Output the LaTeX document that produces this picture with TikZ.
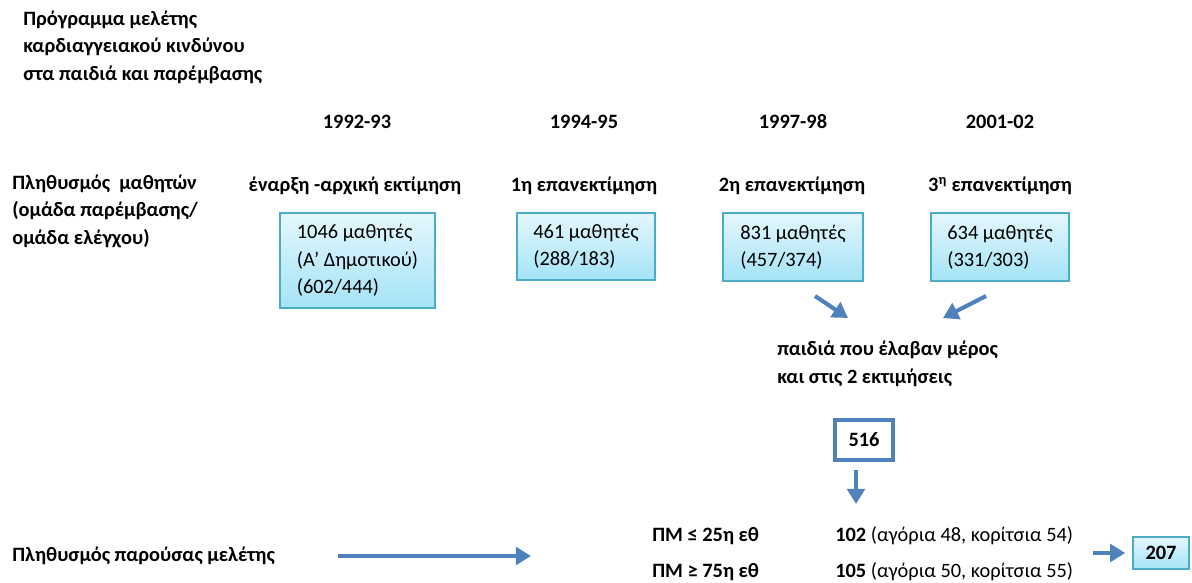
\documentclass[tikz,border=0pt]{standalone}
\usepackage{fontspec}
\setmainfont{Carlito}
\usetikzlibrary{arrows.meta,positioning}

\definecolor{boxline}{HTML}{4BACC6}
\definecolor{boxtop}{HTML}{E4F7FD}
\definecolor{boxbot}{HTML}{A4E3F6}
\definecolor{arrblue}{HTML}{4F81BD}

\begin{document}
\begin{tikzpicture}[
    x=0.025cm, y=-0.025cm,
    font=\fontsize{14.5}{19.5}\selectfont,
    lab/.style={align=left, inner sep=0pt, font=\fontsize{14.5}{19.5}\selectfont\bfseries},
    yr/.style={lab, anchor=center},
    plain/.style={align=left, inner sep=0pt},
    stud/.style={draw=boxline, line width=1pt, top color=boxtop, bottom color=boxbot,
      align=left, inner sep=0pt, font=\fontsize{14.5}{19.5}\selectfont},
    total/.style={draw=arrblue, line width=2.2pt, fill=white, minimum width=1.45cm,
      minimum height=1.0cm, font=\fontsize{14.5}{19.5}\selectfont\bfseries},
    final/.style={stud, minimum width=1.4cm, minimum height=0.8cm,
      font=\fontsize{14.5}{19.5}\selectfont\bfseries},
    arrow/.style={-{Triangle[length=3.8mm, width=4.4mm]}, line width=2.9pt, arrblue}
  ]
  \useasboundingbox (0,0) rectangle (1192,583);

  % title and row labels
  \node[lab, anchor=west] (title) at (23,47)
    {Πρόγραμμα μελέτης\\καρδιαγγειακού κινδύνου\\στα παιδιά και παρέμβασης};
  \node[lab, anchor=west] (pop) at (12,211)
    {Πληθυσμός\ \ μαθητών\\(ομάδα παρέμβασης/\\ομάδα ελέγχου)};

  % years
  \node[yr] (y1) at (357,122) {1992-93};
  \node[yr] (y2) at (584,122) {1994-95};
  \node[yr] (y3) at (793,122) {1997-98};
  \node[yr] (y4) at (1000,122) {2001-02};

  \node[yr] (s1) at (355,186) {έναρξη -αρχική εκτίμηση};
  \node[yr] (s2) at (584,186) {1η επανεκτίμηση};
  \node[yr] (s3) at (792,186) {2η επανεκτίμηση};
  \node[yr] (s4) at (1000,186) {3\textsuperscript{η} επανεκτίμηση};

  % student boxes
  \node[stud, minimum width=3.875cm, minimum height=2.375cm] (b1) at (357.5,260.5)
    {1046 μαθητές\\(Α’ Δημοτικού)\\(602/444)};
  \node[stud, minimum width=3.45cm, minimum height=1.675cm] (b2) at (586,246.5)
    {461 μαθητές\\(288/183)};
  \node[stud, minimum width=3.5cm, minimum height=1.7cm] (b3) at (793,247)
    {831 μαθητές\\(457/374)};
  \node[stud, minimum width=3.45cm, minimum height=1.7cm] (b4) at (1000,247)
    {634 μαθητές\\(331/303)};

  \node[lab, anchor=west] (both) at (777,364)
    {παιδιά που έλαβαν μέρος\\και στις 2 εκτιμήσεις};
  \node[total] (n516) at (864,440) {516};

  \coordinate (a3) at (815,296);
  \coordinate (c3) at (848,318);
  \coordinate (a4) at (986,296);
  \coordinate (c4) at (943,318);
  \coordinate (d1) at (856,470);
  \coordinate (d2) at (856,504);
  \draw[arrow] (a3) -- (c3);
  \draw[arrow] (a4) -- (c4);
  \draw[arrow] (d1) -- (d2);

  % present study
  \node[lab, anchor=west] (cur) at (12,556) {Πληθυσμός παρούσας μελέτης};
  \node[lab, anchor=west] (pm1) at (652,536) {ΠΜ ≤ 25η εθ};
  \node[lab, anchor=west] (pm2) at (652,572) {ΠΜ ≥ 75η εθ};
  \node[plain, anchor=west] (g1) at (835,536) {\textbf{102} (αγόρια 48, κορίτσια 54)};
  \node[plain, anchor=west] (g2) at (835,572) {\textbf{105} (αγόρια 50, κορίτσια 55)};
  \node[final] (n207) at (1161,553) {207};

  \coordinate (e1) at (338,556);
  \coordinate (e2) at (531,556);
  \coordinate (f1) at (1093,553);
  \draw[arrow] (e1) -- (e2);
  \draw[arrow, shorten >=5pt] (f1) -- (n207.west);
\end{tikzpicture}
\end{document}
